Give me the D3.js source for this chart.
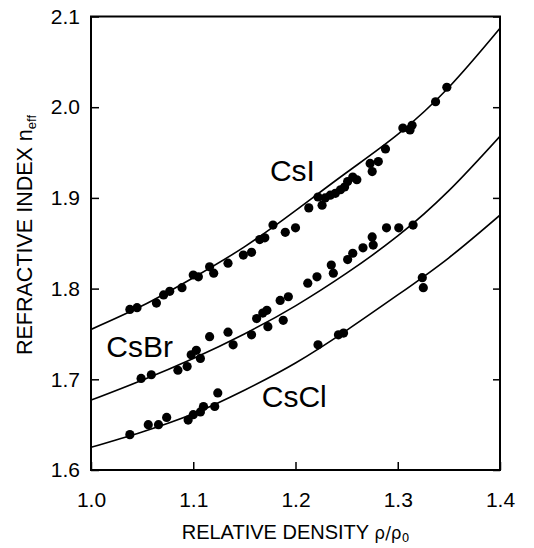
<!DOCTYPE html>
<html>
<head>
<meta charset="utf-8">
<script src="https://cdn.jsdelivr.net/npm/d3@7"></script>
<style>
  html, body { margin: 0; padding: 0; background: #fff; }
  svg { display: block; font-family: "Liberation Sans", Arial, sans-serif; }
</style>
</head>
<body>
<svg id="chart" width="534" height="548"></svg>
<script>
// fitted curves, sampled on a density grid
const densityGrid = [1.0, 1.05, 1.1, 1.15, 1.2, 1.25, 1.3, 1.35, 1.4];
const csiFit  = [1.755, 1.781, 1.812, 1.846, 1.886, 1.928, 1.970, 2.022, 2.087];
const csbrFit = [1.677, 1.699, 1.723, 1.750, 1.781, 1.817, 1.858, 1.908, 1.968];
const csclFit = [1.625, 1.642, 1.662, 1.688, 1.718, 1.754, 1.793, 1.834, 1.881];

// measured points
const csiRho = [1.038, 1.045, 1.064, 1.071, 1.077, 1.089, 1.100, 1.105, 1.116, 1.120, 1.134, 1.149,
  1.157, 1.165, 1.170, 1.178, 1.190, 1.200, 1.213, 1.222, 1.226, 1.229, 1.234, 1.239, 1.244, 1.248,
  1.251, 1.256, 1.260, 1.273, 1.275, 1.281, 1.288, 1.305, 1.312, 1.314, 1.337, 1.348];
const csiN = [1.777, 1.779, 1.784, 1.793, 1.797, 1.801, 1.815, 1.813, 1.824, 1.817, 1.828, 1.837,
  1.840, 1.854, 1.856, 1.870, 1.862, 1.867, 1.889, 1.901, 1.892, 1.900, 1.903, 1.905, 1.909, 1.912,
  1.918, 1.923, 1.920, 1.938, 1.929, 1.940, 1.954, 1.977, 1.975, 1.980, 2.006, 2.022];

const csbrRho = [1.049, 1.059, 1.085, 1.094, 1.098, 1.103, 1.107, 1.116, 1.134, 1.139, 1.157, 1.162,
  1.168, 1.172, 1.173, 1.185, 1.188, 1.193, 1.212, 1.221, 1.235, 1.237, 1.251, 1.256, 1.266, 1.275,
  1.276, 1.289, 1.301, 1.315];
const csbrN = [1.701, 1.705, 1.710, 1.714, 1.727, 1.732, 1.723, 1.747, 1.752, 1.738, 1.749, 1.767,
  1.773, 1.776, 1.758, 1.787, 1.765, 1.791, 1.806, 1.813, 1.826, 1.817, 1.832, 1.839, 1.845, 1.857,
  1.848, 1.867, 1.867, 1.870];

const csclRho = [1.038, 1.056, 1.066, 1.074, 1.095, 1.100, 1.107, 1.110, 1.121, 1.124, 1.222, 1.242,
  1.247, 1.324, 1.325];
const csclN = [1.639, 1.650, 1.650, 1.658, 1.655, 1.661, 1.664, 1.670, 1.670, 1.685, 1.738, 1.749,
  1.751, 1.812, 1.801];

const xTicks = [1.0, 1.1, 1.2, 1.3, 1.4];
const yTicks = [1.6, 1.7, 1.8, 1.9, 2.0, 2.1];

const labels = [
  { name: 'CsI',  rho: 1.175, n: 1.919 },
  { name: 'CsBr', rho: 1.015, n: 1.725 },
  { name: 'CsCl', rho: 1.167, n: 1.670 }
];

const plotL = 91, plotR = 500, plotT = 16.5, plotB = 470;
const font = '"Liberation Sans", Arial, sans-serif';

const svg = d3.select('#chart');
const x = d3.scaleLinear().domain([1.0, 1.4]).range([plotL, plotR]);
const y = d3.scaleLinear().domain([1.6, 2.1]).range([plotB, plotT]);

svg.append('clipPath').attr('id', 'clip')
  .append('rect').attr('x', plotL).attr('y', plotT).attr('width', plotR - plotL).attr('height', plotB - plotT);

const series = [
  { fit: csiFit, rho: csiRho, n: csiN },
  { fit: csbrFit, rho: csbrRho, n: csbrN },
  { fit: csclFit, rho: csclRho, n: csclN }
];

const line = d3.line().x(d => x(d[0])).y(d => y(d[1])).curve(d3.curveNatural);

const plot = svg.append('g').attr('clip-path', 'url(#clip)');

series.forEach(s => {
  plot.append('path')
    .datum(densityGrid.map((r, i) => [r, s.fit[i]]))
    .attr('d', line)
    .attr('fill', 'none')
    .attr('stroke', '#000')
    .attr('stroke-width', 1.6);

  plot.selectAll(null).data(s.rho.map((r, i) => [r, s.n[i]])).enter()
    .append('circle')
    .attr('cx', d => x(d[0]))
    .attr('cy', d => y(d[1]))
    .attr('r', 4.6)
    .attr('fill', '#000');
});

// axes, ticks pointing inward
const xAxis = svg.append('g').attr('transform', `translate(0,${plotB})`)
  .call(d3.axisBottom(x).tickValues(xTicks).tickSize(-8).tickPadding(22).tickFormat(d3.format('.1f')));
const yAxis = svg.append('g').attr('transform', `translate(${plotL},0)`)
  .call(d3.axisLeft(y).tickValues(yTicks).tickSize(-8).tickPadding(11).tickFormat(d3.format('.1f')));
const yAxisR = svg.append('g').attr('transform', `translate(${plotR},0)`)
  .call(d3.axisRight(y).tickValues(yTicks).tickSize(-7).tickFormat(''));

[xAxis, yAxis, yAxisR].forEach(a => {
  a.select('.domain').remove();
  a.selectAll('line').attr('stroke', '#000').attr('stroke-width', 1.5);
  a.selectAll('text').attr('font-family', font).attr('font-size', 21).attr('fill', '#000');
});

svg.append('rect')
  .attr('x', plotL).attr('y', plotT)
  .attr('width', plotR - plotL).attr('height', plotB - plotT)
  .attr('fill', 'none').attr('stroke', '#000').attr('stroke-width', 2);

svg.selectAll('.curve-label').data(labels).enter()
  .append('text')
  .attr('class', 'curve-label')
  .attr('x', d => x(d.rho))
  .attr('y', d => y(d.n))
  .attr('font-size', 30)
  .attr('font-family', font)
  .text(d => d.name);

// axis titles
const xTitle = svg.append('text')
  .attr('x', (plotL + plotR) / 2)
  .attr('y', 539)
  .attr('text-anchor', 'middle')
  .attr('font-size', 20)
  .attr('font-family', font);
xTitle.append('tspan').text('RELATIVE DENSITY ');
xTitle.append('tspan').attr('font-family', '"DejaVu Sans", sans-serif').attr('font-size', 17).text('ρ/ρ');
xTitle.append('tspan').attr('font-family', '"DejaVu Sans", sans-serif').attr('font-size', 12).attr('dy', 3).text('0');

const yTitle = svg.append('text')
  .attr('transform', 'translate(32,235) rotate(-90)')
  .attr('text-anchor', 'middle')
  .attr('font-size', 21.5)
  .attr('font-family', font);
yTitle.append('tspan').text('REFRACTIVE INDEX n');
yTitle.append('tspan').attr('font-size', 13).attr('dy', 4).text('eff');
</script>
</body>
</html>
